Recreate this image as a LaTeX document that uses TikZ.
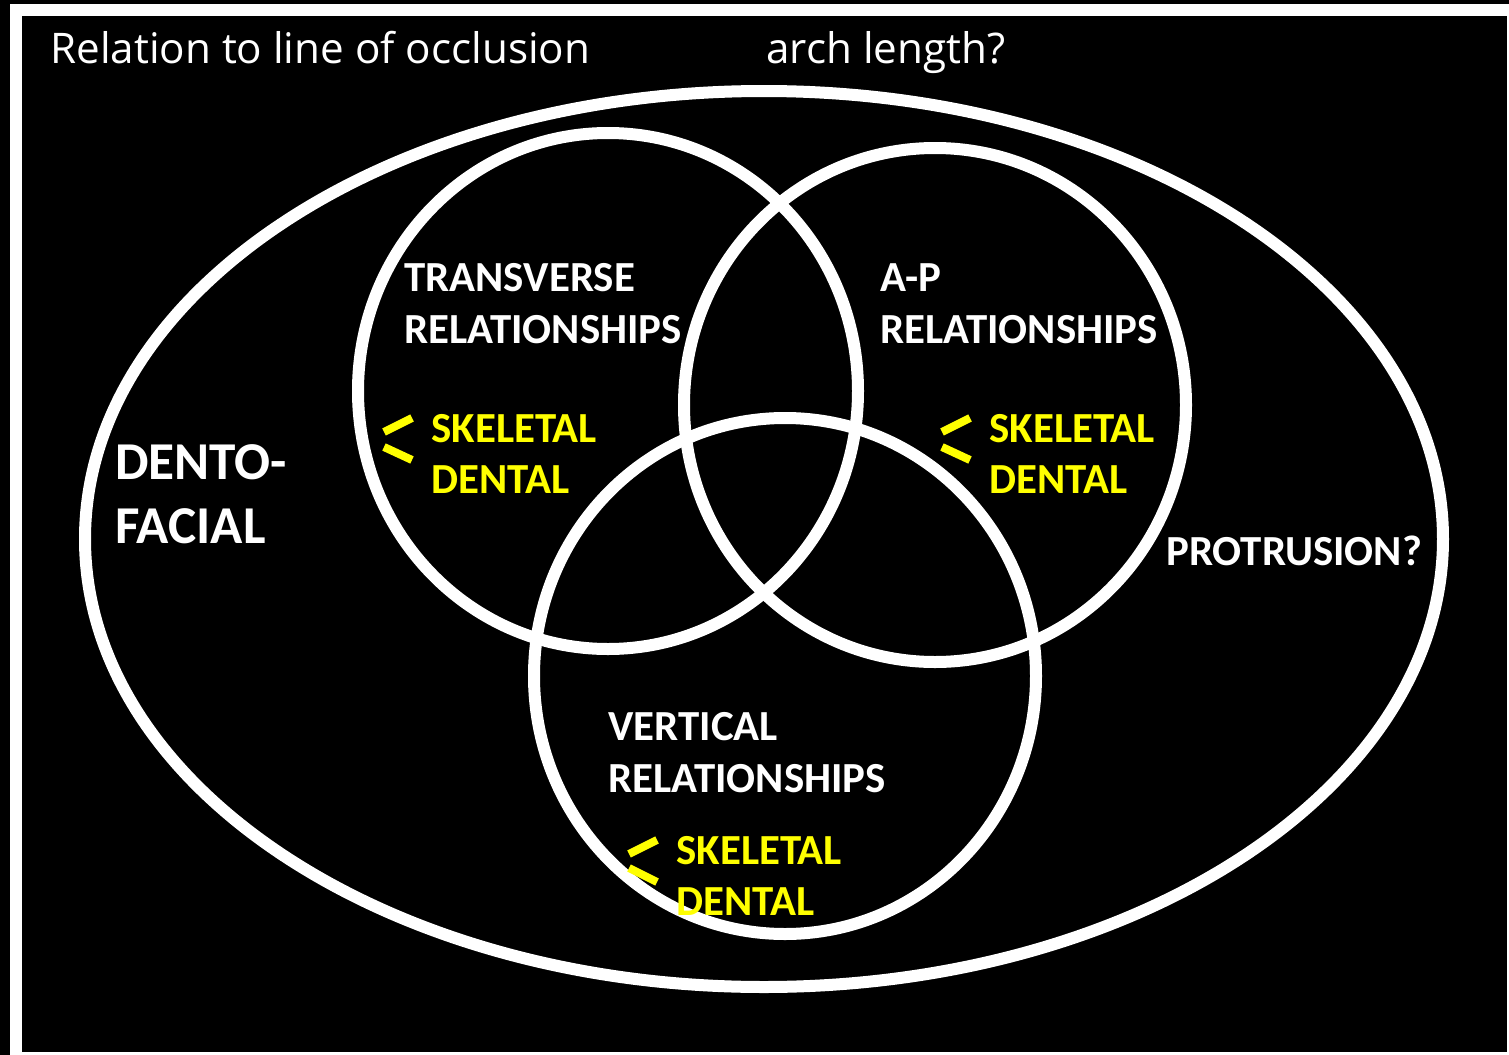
\documentclass[tikz,border=0pt]{standalone}
\usepackage{fontspec}
\setmainfont{Carlito}[Ligatures=NoCommon]
\newfontfamily\headfont{Open Sans}
\usetikzlibrary{positioning}
\definecolor{bg}{HTML}{000000}
\definecolor{ring}{HTML}{FFFFFF}
\definecolor{mark}{HTML}{FFFF00}
\tikzset{
  heading/.style={font=\headfont\fontsize{24}{29}\selectfont,text=ring,anchor=base west,inner sep=0pt},
  label/.style={font=\bfseries\fontsize{24.4}{29.5}\selectfont,text=ring,anchor=base west,inner sep=0pt,align=left},
  biglabel/.style={font=\bfseries\fontsize{30.3}{36}\selectfont,text=ring,anchor=base west,inner sep=0pt,align=left},
  kind/.style={font=\bfseries\fontsize{24.4}{29}\selectfont,text=mark,anchor=base west,inner sep=0pt,align=left},
  venn/.style={draw=ring,line width=12*0.02cm},
  tick/.style={draw=mark,line width=8*0.02cm}
}
\begin{document}
\begin{tikzpicture}[x=0.02cm,y=-0.02cm]
\fill[bg] (0,0) rectangle (1509,1055);
\useasboundingbox (0,0) rectangle (1509,1055);
\begin{scope}
\clip (0,0) rectangle (1509,1055);
\draw[ring,line width=12*0.02cm] (16,10) rectangle (1513,1058);
\end{scope}
% headings
\node[heading] (occl) at (50,63) {Relation to line of occlusion};
\node[heading] (arch) at (766,63) {arch length?};
% rings
\draw[venn] (764,539) ellipse [x radius=679,y radius=448];
\draw[venn] (608,391) ellipse [x radius=250,y radius=258];
\draw[venn] (935,405) ellipse [x radius=251,y radius=257];
\draw[venn] (785,676) ellipse [x radius=251,y radius=258];
% labels (anchored at the last line)
\node[label] (trans) at (404,343) {TRANSVERSE\\RELATIONSHIPS};
\node[label] (ap) at (880,343) {A-P\\RELATIONSHIPS};
\node[label] (vert) at (608,792) {VERTICAL\\RELATIONSHIPS};
\node[biglabel] (dento) at (115,543) {DENTO-\\FACIAL};
\node[label] (protr) at (1166,565) {PROTRUSION?};
% skeletal / dental
\node[kind] (transk) at (431,493) {SKELETAL\\DENTAL};
\node[kind] (apk) at (989,493) {SKELETAL\\DENTAL};
\node[kind] (vertk) at (676,915) {SKELETAL\\DENTAL};
\draw[tick] (384,432) -- (412,418); \draw[tick] (384,447) -- (412,460);
\draw[tick] (942,432) -- (970,418); \draw[tick] (942,447) -- (970,460);
\draw[tick] (629,854) -- (657,840); \draw[tick] (629,868) -- (657,882);
\end{tikzpicture}
\end{document}
